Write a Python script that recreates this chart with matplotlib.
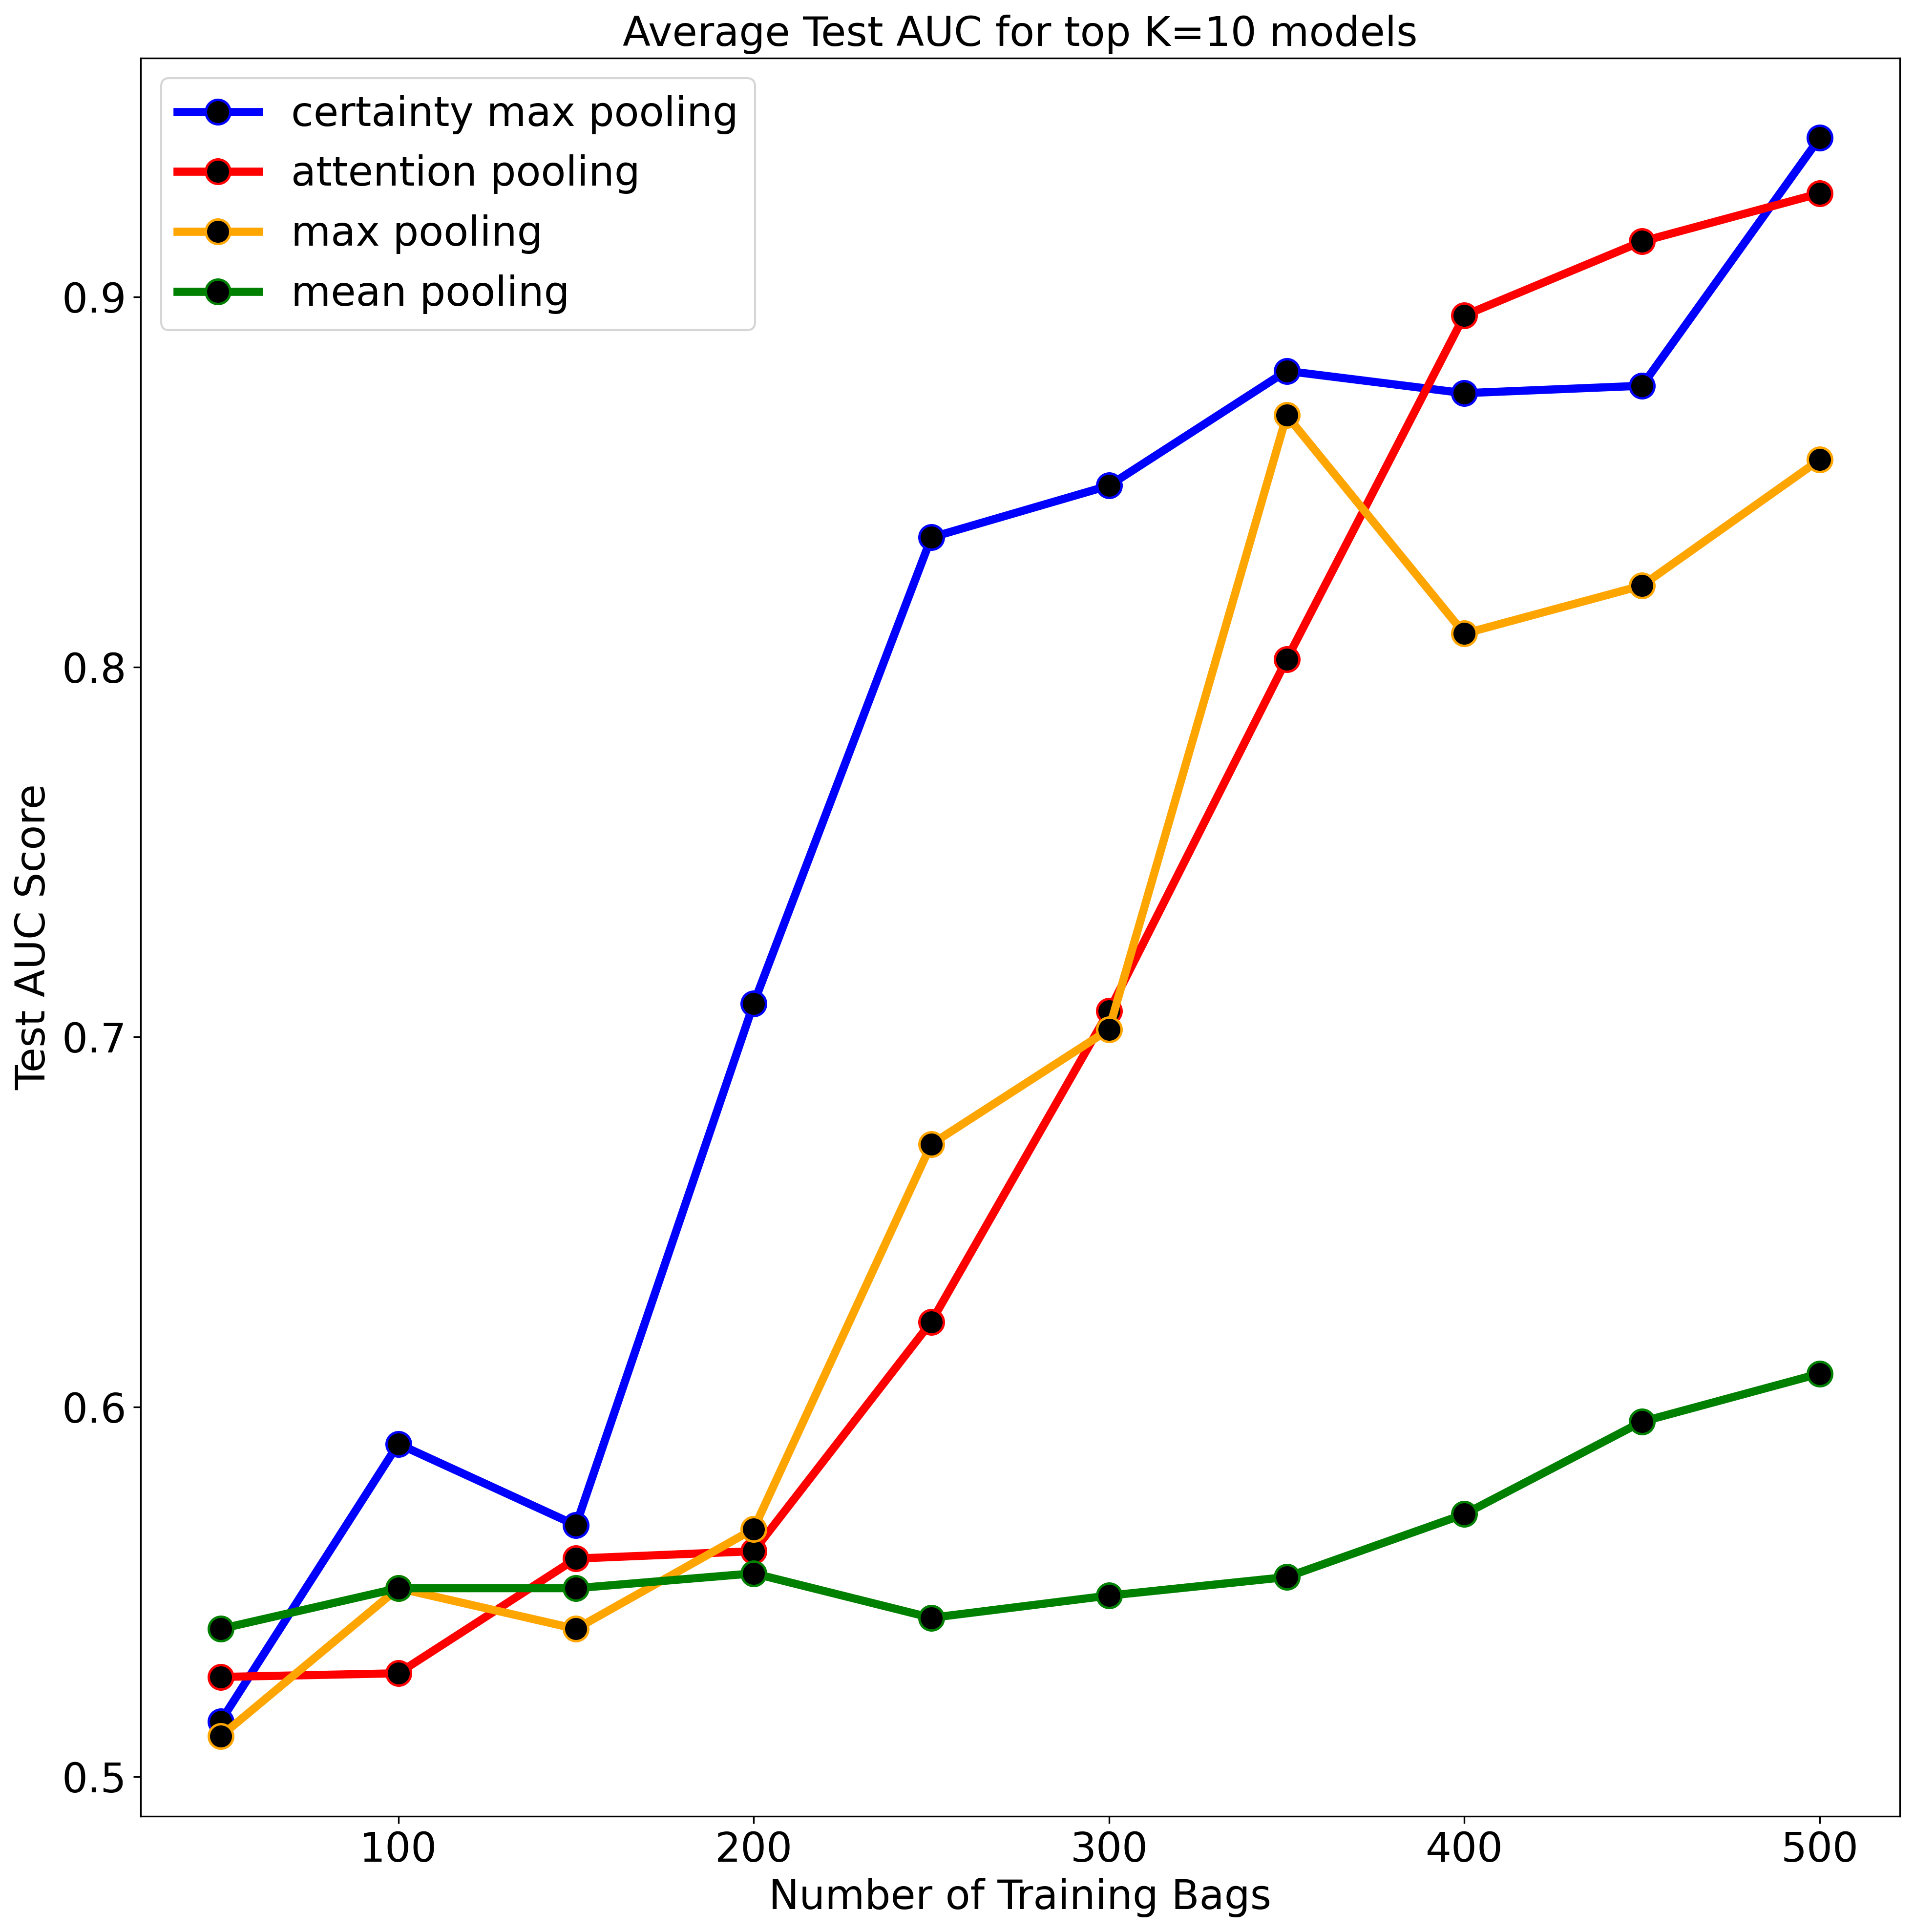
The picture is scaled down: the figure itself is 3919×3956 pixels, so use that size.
import matplotlib
matplotlib.use('Agg')
import matplotlib.pyplot as plt
import numpy as np

#-- Number of training bags --
n_bags = [50, 100, 150, 200, 250, 300, 350, 400, 450, 500]

#-- Average test AUC per pooling method --
auc_certainty = [0.515, 0.590, 0.568, 0.709, 0.835, 0.849, 0.880, 0.874, 0.876, 0.943]
auc_attention = [0.527, 0.528, 0.559, 0.561, 0.623, 0.707, 0.802, 0.895, 0.915, 0.928]
auc_max = [0.511, 0.551, 0.540, 0.567, 0.671, 0.702, 0.868, 0.809, 0.822, 0.856]
auc_mean = [0.540, 0.551, 0.551, 0.555, 0.543, 0.549, 0.554, 0.571, 0.596, 0.609]

series = [
    ('certainty max pooling', auc_certainty, 'blue'),
    ('attention pooling', auc_attention, 'red'),
    ('max pooling', auc_max, 'orange'),
    ('mean pooling', auc_mean, 'green'),
]

plt.rcParams['font.size'] = 20

fig = plt.figure(figsize=(3919 / 300, 3956 / 300), dpi=300)
ax = fig.add_axes([0.0735, 0.060, 0.919, 0.910])

for name, vals, col in series:
    ax.plot(n_bags, vals, '-o', color=col, lw=4, ms=12,
            markerfacecolor='black', markeredgecolor=col, markeredgewidth=1.2,
            label=name)

ax.set_title('Average Test AUC for top K=10 models', fontsize=20)
ax.set_xlabel('Number of Training Bags', fontsize=20)
ax.set_ylabel('Test AUC Score', fontsize=20)
ax.tick_params(labelsize=20)
ax.legend(loc='upper left', fontsize=20)

fig.savefig('out.png', dpi=300)
